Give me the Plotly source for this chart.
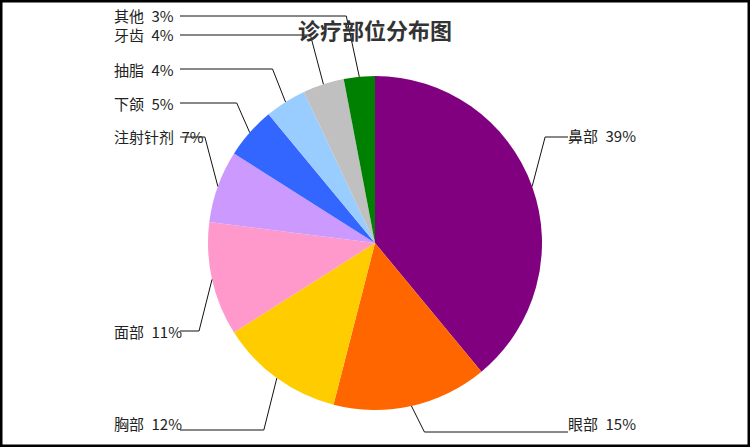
import math
import plotly.graph_objects as go

# Chart data
parts = ["鼻部", "眼部", "胸部", "面部", "注射针剂", "下颌", "抽脂", "牙齿", "其他"]
shares = [39, 15, 12, 11, 7, 5, 4, 4, 3]
colors = ["#800080", "#FF6600", "#FFCC00", "#FF99CC", "#CC99FF",
          "#3366FF", "#99CCFF", "#C0C0C0", "#008000"]

# Label layout (pixels from top-left of the 750x447 page)
label_side = ["r", "r", "l", "l", "l", "l", "l", "l", "l"]
label_y = [136, 423, 423, 331, 137, 103, 69, 35, 16]
line_y = [137, 432, 430, 331, 137, 103, 69, 35, 16]

W, H = 750, 447
cx, cy, r = 375, 243, 167   # pie centre and radius in pixels
left_text_x, left_line_end = 112, 180
right_text_x = 568
elbow = 13


def px(x):
    return x / W


def py(y):
    return 1 - y / H


fig = go.Figure()
fig.add_trace(go.Pie(
    labels=parts,
    values=shares,
    marker=dict(colors=colors, line=dict(width=0)),
    sort=False,
    direction="clockwise",
    rotation=0,
    textinfo="none",
    hoverinfo="label+percent",
    showlegend=False,
    domain=dict(x=[px(cx - r), px(cx + r)], y=[py(cy + r), py(cy - r)]),
))

# Leader lines and labels, anchored on each slice's mid angle
shapes = []
annotations = []
total = sum(shares)
cum = 0
for name, v, side, ty, ly in zip(parts, shares, label_side, label_y, line_y):
    ang = (cum + v / 2) / total * 2 * math.pi
    cum += v
    ex = cx + r * math.sin(ang)
    ey = cy - r * math.cos(ang)
    if side == "r":
        bx = ex + elbow
        end_x = right_text_x
        tx = right_text_x - 2
    else:
        bx = ex - elbow
        end_x = left_line_end
        tx = left_text_x
    for x0, y0, x1, y1 in [(ex, ey, bx, ly), (bx, ly, end_x, ly)]:
        shapes.append(dict(type="line", xref="paper", yref="paper",
                           x0=px(x0), y0=py(y0), x1=px(x1), y1=py(y1),
                           line=dict(color="#111111", width=1)))
    annotations.append(dict(text=f"{name}\u2002{v}%", x=px(tx), y=py(ty),
                            xref="paper", yref="paper", xanchor="left",
                            yanchor="middle", showarrow=False,
                            font=dict(size=15, color="#222222")))

# Outer frame
shapes.append(dict(type="rect", xref="paper", yref="paper",
                   x0=0, y0=0, x1=1, y1=1,
                   line=dict(color="#000000", width=5)))

fig.update_layout(
    title=dict(text="<b>诊疗部位分布图</b>", x=0.5, xanchor="center",
               y=py(31), yanchor="middle",
               font=dict(size=22, color="#333333")),
    font=dict(family="Noto Sans CJK SC, sans-serif"),
    shapes=shapes,
    annotations=annotations,
    width=W,
    height=H,
    margin=dict(l=0, r=0, t=0, b=0),
    paper_bgcolor="white",
    plot_bgcolor="white",
)

# page body has a default margin; drop it so the figure fills the window
fig.write_html("out.html",
               config={"displayModeBar": False},
               post_script="document.body.style.margin='0';"
                           "document.body.style.overflow='hidden';")
